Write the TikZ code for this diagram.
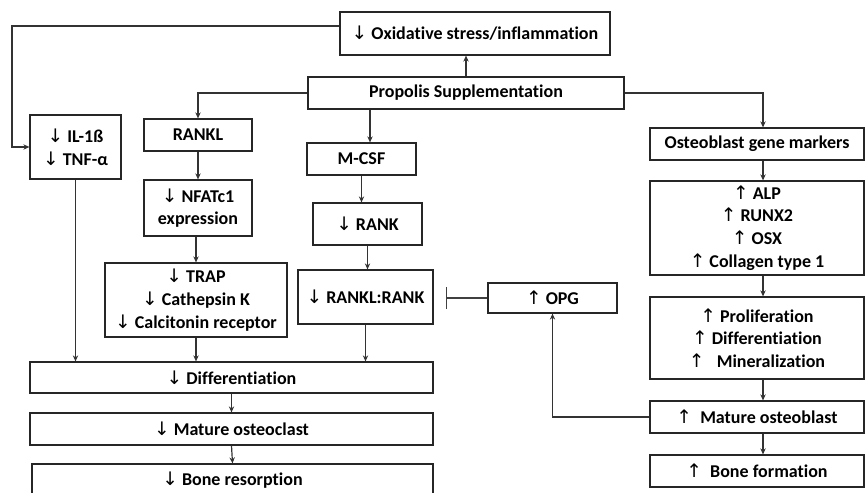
\documentclass[tikz,border=0pt]{standalone}
\usepackage{fontspec}
\setmainfont{Carlito}[Ligatures={NoCommon}]
\newfontfamily\arrowfont{DejaVu Sans}
\usepackage{tikz}
\usetikzlibrary{arrows.meta,calc}

\newcommand{\dnar}{{\arrowfont\mdseries\fontsize{14pt}{17pt}\selectfont ↓}}
\newcommand{\upar}{{\arrowfont\mdseries\fontsize{14pt}{17pt}\selectfont ↑}}

\begin{document}
\begin{tikzpicture}[x=0.75pt,y=0.75pt,yscale=-1,xscale=1,
    box/.style={draw=black!85, line width=0.9pt, align=center, inner sep=0pt,
        font=\bfseries\fontsize{13.5pt}{17pt}\selectfont},
    arr/.style={draw=black!80, line width=0.9pt, -{Stealth[length=4.5pt,width=4pt]}},
    inh/.style={draw=black!75, line width=0.9pt, -{Bar[width=16pt,line width=1pt]}, shorten >=9pt}]
    \useasboundingbox (0,0) rectangle (866,492);
    \clip (0,0) rectangle (866,492);

    %Top
    \node[box, minimum width=202.5pt, minimum height=32.25pt] (oxi) at (475,33.5) {\dnar\ Oxidative stress/inflammation};
    \node[box, minimum width=237pt, minimum height=24pt] (prop) at (466,93) {Propolis Supplementation};

    %Osteoclast side
    \node[box, minimum width=68.25pt, minimum height=48pt] (il) at (75.5,147) {\dnar\ IL-1ß\\ \dnar\ TNF-α};
    \node[box, minimum width=81pt, minimum height=24pt] (rankl) at (198,135) {RANKL};
    \node[box, minimum width=81pt, minimum height=42pt] (nfat) at (198,208) {\dnar\ NFATc1\\ expression};
    \node[box, minimum width=136.5pt, minimum height=55.5pt] (trap) at (196,300) {\dnar\ TRAP\\ \dnar\ Cathepsin K\\ \dnar\ Calcitonin receptor};
    \node[box, minimum width=81.75pt, minimum height=24pt] (mcsf) at (361.5,159) {M-CSF};
    \node[box, minimum width=81.75pt, minimum height=31.5pt] (rank) at (367.5,224) {\dnar\ RANK};
    \node[box, minimum width=101.25pt, minimum height=40.5pt] (rr) at (365.5,297) {\dnar\ RANKL:RANK};
    \node[box, minimum width=96.75pt, minimum height=22.5pt] (opg) at (552.5,298) {\upar\ OPG};
    \node[box, minimum width=302.25pt, minimum height=23.25pt] (diff) at (231.5,377.5) {\dnar\ Differentiation};
    \node[box, minimum width=302.25pt, minimum height=24pt] (moc) at (231.5,429) {\dnar\ Mature osteoclast};
    \node[box, minimum width=300.75pt, minimum height=24pt] (bres) at (232.5,480) {\dnar\ Bone resorption};

    %Osteoblast side
    \node[box, minimum width=160.5pt, minimum height=24pt] (gene) at (757,144) {Osteoblast gene markers};
    \node[box, minimum width=160.5pt, minimum height=70.5pt] (alp) at (757,228) {\upar\ ALP\\ \upar\ RUNX2\\ \upar\ OSX\\ \upar\ Collagen type 1};
    \node[box, minimum width=160.5pt, minimum height=61.5pt] (prol) at (757,338) {\upar\ Proliferation\\ \upar\ Differentiation\\ \upar\ \ \ Mineralization};
    \node[box, minimum width=160.5pt, minimum height=24pt] (mob) at (757,417) {\upar\ \ Mature osteoblast};
    \node[box, minimum width=160.5pt, minimum height=24pt] (bform) at (757,471) {\upar\ \ Bone formation};

    \coordinate (tl) at (12,26);
    \coordinate (rc) at (763,0);
    \coordinate (mc) at (370,0);

    %Connectors
    \draw[arr] (prop.north) -- (prop.north |- oxi.south);
    \draw[arr] (oxi.west |- tl) -- (tl) |- (il.west);
    \draw[arr] (prop.west) -| (rankl.north);
    \draw[arr] (prop.south -| mc) -- (mcsf.north -| mc);
    \draw[arr] (prop.east) -| (gene.north -| rc);
    \draw[arr] (rankl.south) -- (nfat.north);
    \draw[arr] (nfat.south -| trap.north) -- (trap.north);
    \draw[arr] (mcsf.south) -- (mcsf.south |- rank.north);
    \draw[arr] (rank.south) -- (rank.south |- rr.north);
    \draw[inh] (opg.west) -- (rr.east |- opg.west);
    \draw[arr] (mob.west) -| (opg.south);
    \draw[arr] (il.south) -- (il.south |- diff.north);
    \draw[arr] (trap.south) -- (trap.south |- diff.north);
    \draw[arr] (rr.south) -- (rr.south |- diff.north);
    \draw[arr] (diff.south) -- (moc.north);
    \draw[arr] (moc.south) -- (bres.north);
    \draw[arr] (gene.south -| rc) -- (alp.north -| rc);
    \draw[arr] (alp.south -| rc) -- (prol.north -| rc);
    \draw[arr] (prol.south -| rc) -- (mob.north -| rc);
    \draw[arr] (mob.south -| rc) -- (bform.north -| rc);
\end{tikzpicture}
\end{document}
